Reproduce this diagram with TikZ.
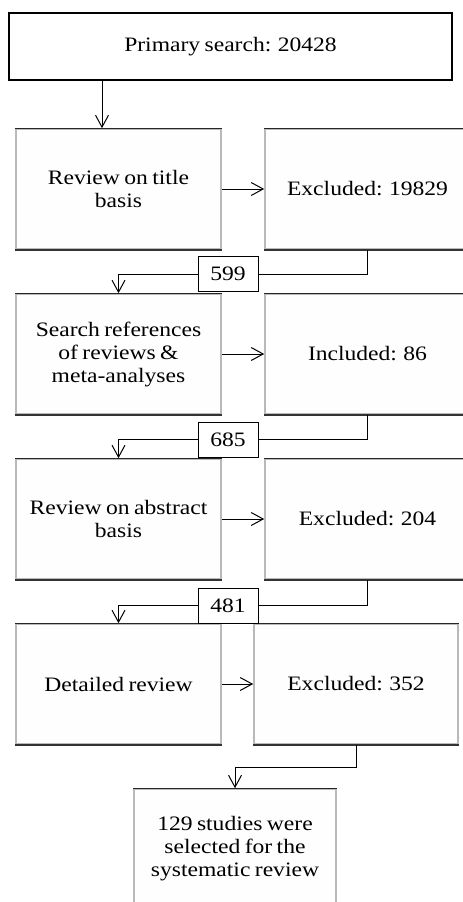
\documentclass[tikz,border=0pt]{standalone}
\usepackage{fontspec}
\setmainfont{Liberation Serif}[FakeStretch=1.15,WordSpace=0.75]
\usetikzlibrary{arrows.meta}

\tikzset{every picture/.style={line width=1pt}}
\tikzset{
  txt/.style={font=\fontsize{20.5}{23}\selectfont, align=center, inner sep=0pt},
  stepbox/.style={txt, draw=gray!55, fill=gray!1, line width=1.6pt, minimum width=205, minimum height=120},
  countbox/.style={txt, draw, fill=white, line width=1pt, minimum width=60, minimum height=35},
  arr/.style={-{Straight Barb[length=12pt,width=13pt,line width=1pt]}},
}

\begin{document}
\begin{tikzpicture}[x=1pt,y=1pt,yscale=-1,xscale=1]
        \useasboundingbox (0,0) rectangle (463,902);
        \clip (0,0) rectangle (463,902);

        % Boxes
        \node [txt, draw, line width=1.2pt, minimum width=443, minimum height=67] (search) at (230.5,46.5) {Primary search: 20428};
        \node [stepbox] (title) at (118.5,189) {Review on title\\basis};
        \node [stepbox] (excl1) at (367.5,189) {Excluded: 19829};
        \node [stepbox] (refs) at (118.5,354) {Search references\\of reviews \&\\meta-analyses};
        \node [stepbox] (incl) at (367.5,354) {Included: 86};
        \node [stepbox] (abs) at (118.5,519) {Review on abstract\\basis};
        \node [stepbox] (excl2) at (367.5,519) {Excluded: 204};
        \node [stepbox] (detail) at (118.5,684) {Detailed review};
        \node [stepbox, minimum width=204] (excl3) at (356,684) {Excluded: 352};
        \node [stepbox, minimum width=202] (final) at (235,849) {129 studies were\\selected for the\\systematic review};

        % shaded edges
        \foreach \b in {title,excl1,refs,incl,abs,excl2,detail,excl3,final} {
          \draw [black!85, line width=1.2pt] (\b.north west) -- (\b.north east);
          \draw [black!80, line width=2.2pt] (\b.south west) -- (\b.south east);
        }

        % Counts
        \node [countbox] (n599) at (228,274) {599};
        \node [countbox] (n685) at (228,439.5) {685};
        \node [countbox] (n481) at (228,605.5) {481};

        % Connectors
        \coordinate (a1) at (102,0);
        \coordinate (j4) at (0,767);
        \draw [arr] (search.south -| a1) -- (title.north -| a1);
        \draw [arr] (title.east) -- (excl1.west);
        \draw (excl1.south) |- (n599.east);
        \draw [arr] (n599.west) -| (refs.north);
        \draw [arr] (refs.east) -- (incl.west);
        \draw (incl.south) |- (n685.east);
        \draw [arr] (n685.west) -| (abs.north);
        \draw [arr] (abs.east) -- (excl2.west);
        \draw (excl2.south) |- (n481.east);
        \draw [arr] (n481.west) -| (detail.north);
        \draw [arr] (detail.east) -- (excl3.west);
        \draw [arr] (excl3.south) -- (excl3.south |- j4) -| (final.north);

\end{tikzpicture}
\end{document}
